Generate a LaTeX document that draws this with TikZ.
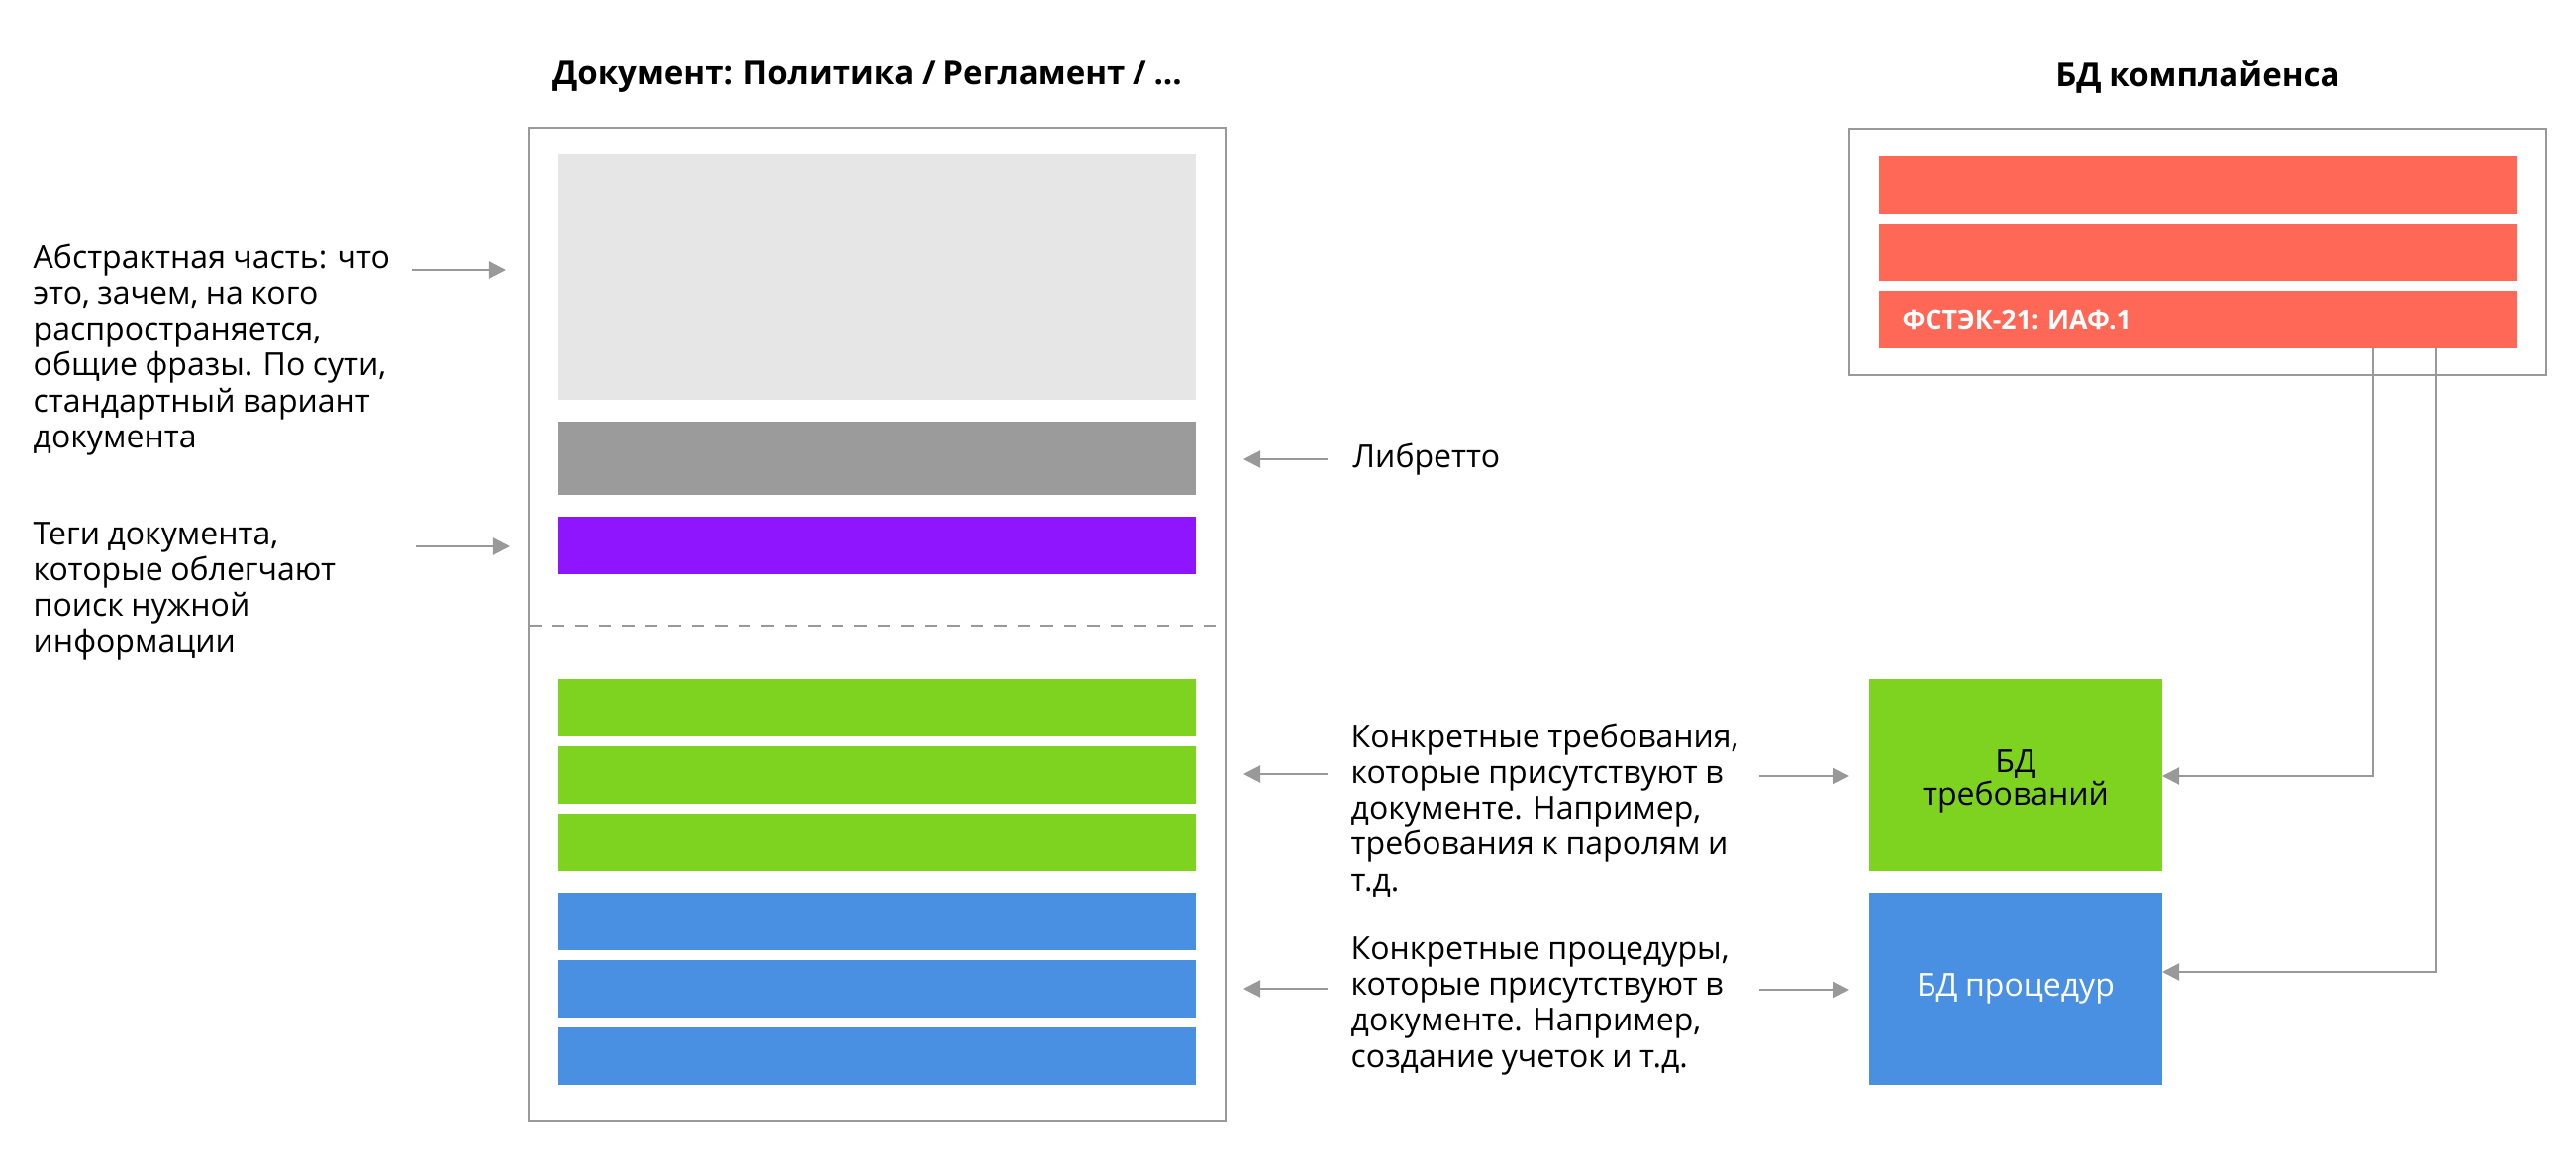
\documentclass[tikz,border=0pt]{standalone}
\usepackage{fontspec}
\setmainfont{Open Sans}[WordSpace=0.9]
\usetikzlibrary{arrows.meta,fit,calc}
\definecolor{lightblk}{HTML}{E6E6E6}
\definecolor{grayblk}{HTML}{9B9B9B}
\definecolor{purpleblk}{HTML}{8F14FF}
\definecolor{greenblk}{HTML}{7ED321}
\definecolor{blueblk}{HTML}{4A90E2}
\definecolor{redblk}{HTML}{FF6757}
\definecolor{lineg}{HTML}{999999}
\begin{document}
\begin{tikzpicture}[x=0.01cm,y=-0.01cm,
  blk/.style={inner sep=0pt, outer sep=0pt, draw=none},
  frame/.style={draw=lineg, line width=0.6pt, inner sep=0pt, outer sep=0pt},
  arr/.style={draw=lineg, line width=0.6pt, -{Triangle[length=0.17cm,width=0.17cm]}},
  conn/.style={draw=lineg, line width=0.6pt, -{Triangle[length=0.17cm,width=0.17cm]}},
  txt/.style={align=left, inner sep=0pt, anchor=north west, font=\fontsize{9.1}{10.3}\selectfont},
  ttl/.style={inner sep=0pt, font=\fontsize{9.4}{12}\selectfont\bfseries},
  dbtxt/.style={align=center, font=\fontsize{9.1}{9.4}\selectfont}
]
\useasboundingbox[fill=white] (0,0) rectangle (2602,1180);

% titles
\node[ttl] (doctitle) at (876,78) {Документ: Политика / Регламент / ...};
\node[ttl] (comptitle) at (2220,78) {БД комплайенса};

% document box
\node[frame, fit={(534,129) (1238,1133)}] (doc) {};
\node[blk, fill=lightblk, fit={(564,156) (1208,404)}] (abs) {};
\node[blk, fill=grayblk, fit={(564,426) (1208,500)}] (lib) {};
\node[blk, fill=purpleblk, fit={(564,522) (1208,580)}] (tags) {};
\draw[draw=lineg, line width=0.6pt, dash pattern=on 0.125cm off 0.11cm] (doc.west |- 0,632) -- (doc.east |- 0,632);
\node[blk, fill=greenblk, fit={(564,686) (1208,744)}] (g1) {};
\node[blk, fill=greenblk, fit={(564,754) (1208,812)}] (g2) {};
\node[blk, fill=greenblk, fit={(564,822) (1208,880)}] (g3) {};
\node[blk, fill=blueblk, fit={(564,902) (1208,960)}] (b1) {};
\node[blk, fill=blueblk, fit={(564,970) (1208,1028)}] (b2) {};
\node[blk, fill=blueblk, fit={(564,1038) (1208,1096)}] (b3) {};

% compliance box
\node[frame, fit={(1868,130) (2572,379)}] (comp) {};
\node[blk, fill=redblk, fit={(1898,158) (2542,216)}] (r1) {};
\node[blk, fill=redblk, fit={(1898,226) (2542,284)}] (r2) {};
\node[blk, fill=redblk, fit={(1898,294) (2542,352)}] (r3) {};
\node[inner sep=0pt, anchor=west, text=white, font=\fontsize{7.6}{9}\selectfont\bfseries] (fstek) at (1921,323) {ФСТЭК-21: ИАФ.1};

% DB boxes
\node[blk, fill=greenblk, fit={(1888,686) (2184,880)}] (dbreq) {};
\node[dbtxt] (dbreqtxt) at ($(dbreq.center)+(0,6)$) {БД\\требований};
\node[blk, fill=blueblk, fit={(1888,902) (2184,1096)}] (dbproc) {};
\node[dbtxt, text=white] (dbproctxt) at (dbproc.center) {БД процедур};

% left texts
\node[txt] (abstxt) at (33,246) {Абстрактная часть: что\\это, зачем, на кого\\распространяется,\\общие фразы. По сути,\\стандартный вариант\\документа};
\node[txt] (tagstxt) at (33,527) {Теги документа,\\которые облегчают\\поиск нужной\\информации};

% right texts
\node[txt, anchor=west] (libtxt) at (1366,464) {Либретто};
\node[txt] (reqtxt) at (1364,730) {Конкретные требования,\\которые присутствуют в\\документе. Например,\\требования к паролям и\\т.д.};
\node[txt] (proctxt) at (1364,946) {Конкретные процедуры,\\которые присутствуют в\\документе. Например,\\создание учеток и т.д.};

% arrows left side
\draw[arr] ($(abs.west |- 0,273)+(-148,0)$) -- ($(abs.west |- 0,273)+(-53,0)$);
\draw[arr] ($(tags.west |- 0,552)+(-144,0)$) -- ($(tags.west |- 0,552)+(-49,0)$);

% arrows right side pointing to the document
\draw[arr] ($(doc.east |- 0,464)+(103,0)$) -- ($(doc.east |- 0,464)+(18,0)$);
\draw[arr] ($(doc.east |- 0,782)+(103,0)$) -- ($(doc.east |- 0,782)+(18,0)$);
\draw[arr] ($(doc.east |- 0,999)+(103,0)$) -- ($(doc.east |- 0,999)+(18,0)$);

% arrows to DB boxes
\draw[arr] ($(dbreq.west |- 0,784)+(-111,0)$) -- ($(dbreq.west |- 0,784)+(-20,0)$);
\draw[arr] ($(dbproc.west |- 0,1000)+(-111,0)$) -- ($(dbproc.west |- 0,1000)+(-20,0)$);

% connectors from compliance DB
\draw[conn] (2397,0 |- r3.south) -- (2397,0 |- 0,784) -- (dbreq.east |- 0,784);
\draw[conn] (2461,0 |- r3.south) -- (2461,0 |- 0,982) -- (dbproc.east |- 0,982);
\end{tikzpicture}
\end{document}
